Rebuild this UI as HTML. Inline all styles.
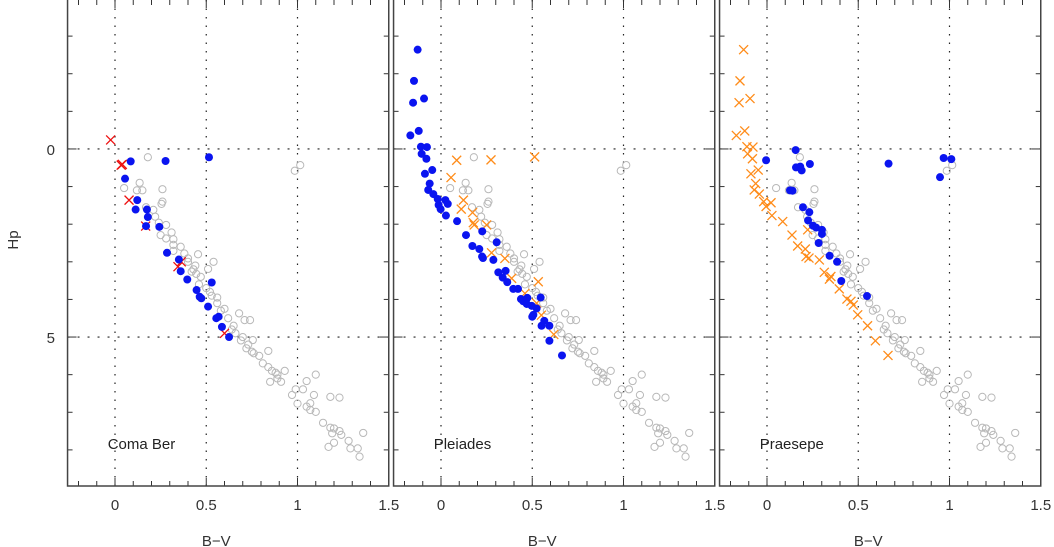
<!DOCTYPE html>
<html><head><meta charset="utf-8"><style>
html,body{margin:0;padding:0;background:#fff;}
svg{display:block;font-family:"Liberation Sans",sans-serif;}
</style></head><body>
<svg id="chart" width="1054" height="547" viewBox="0 0 1054 547" xmlns="http://www.w3.org/2000/svg"></svg>
<script>
// ---- data ----
const panelNames = ["Coma Ber", "Pleiades", "Praesepe"];
const xTicks = [0, 0.5, 1, 1.5];
const xTickLabels = ["0", "0.5", "1", "1.5"];
const yTicks = [0, 5];
const yTickLabels = ["0", "5"];
// field stars (grey open circles): [B-V, Hp]
const fieldStars = [[.18,.22],[1.015,.43],[.985,.58],[.135,.9],[.05,1.04],[.12,1.1],[.15,1.1],[.26,1.07],[.26,1.4],[.255,1.46],
[.17,1.55],[.21,1.62],[.22,1.8],[.24,1.96],[.28,2.02],[.25,2.29],[.28,2.38],[.32,2.4],[.31,2.22],[.32,2.55],[.32,2.71],[.38,2.78],
[.455,2.8],[.4,2.91],[.44,3.1],[.42,3.26],[.445,3.32],[.51,3.19],[.54,3.0],[.46,3.6],[.52,3.8],[.56,3.95],[.56,4.1],[.6,4.25],
[.68,4.37],[.71,4.55],[.74,4.55],[.65,4.7],[.66,4.9],[.755,5.08],[.69,5.09],[.72,5.3],[.75,5.39],[.76,5.43],[.84,5.37],
[.81,5.7],[.84,5.8],[.86,5.9],[.93,5.9],[.85,6.19],[.89,6.1],[.91,6.19],[.89,6.0],[.99,6.39],[.97,6.54],[1.03,6.39],[1.1,6.0],
[1.05,6.17],[1.0,6.77],[1.09,6.54],[1.05,6.85],[1.07,6.76],[1.07,6.94],[1.1,6.99],[1.18,6.59],[1.23,6.61],[1.14,7.28],[1.18,7.41],
[1.2,7.43],[1.19,7.56],[1.23,7.5],[1.24,7.6],[1.36,7.55],[1.28,7.76],[1.17,7.92],[1.2,7.81],[1.29,7.96],[1.33,7.96],[1.34,8.18],
[.36,2.6],[.4,3.0],[.43,3.2],[.47,3.4],[.5,3.7],[.53,3.9],[.58,4.3],[.62,4.5],[.64,4.8],[.7,5.0],[.73,5.2],[.79,5.5],[.88,5.95]];
// Coma Ber
const comaDots = [[.086,.33],[.277,.32],[.515,.22],[.055,.79],[.122,1.36],[.113,1.61],[.175,1.61],[.18,1.81],[.17,2.05],[.243,2.07],
[.285,2.76],[.35,2.94],[.36,3.25],[.396,3.47],[.53,3.55],[.447,3.75],[.464,3.93],[.473,3.97],[.51,4.19],[.555,4.5],[.568,4.46],[.586,4.73],[.625,5.0]];
const comaCrosses = [[-.024,-.24],[.034,.43],[.04,.41],[.077,1.36],[.168,2.05],[.363,3.0],[.345,3.13],[.6,4.9]];
// Pleiades
const pleiadesDots = [[-.128,-2.64],[-.148,-1.81],[-.153,-1.23],[-.093,-1.34],[-.168,-.36],[-.122,-.48],[-.11,-.06],[-.077,-.05],
[-.106,.13],[-.08,.26],[-.088,.66],[-.048,.56],[-.062,.92],[-.07,1.09],[-.042,1.2],[-.018,1.33],[-.013,1.49],[-.002,1.6],[.024,1.36],
[.037,1.46],[.027,1.77],[.088,1.92],[.226,2.19],[.137,2.29],[.305,2.48],[.172,2.58],[.21,2.66],[.225,2.86],[.23,2.9],[.287,2.95],
[.314,3.28],[.354,3.24],[.338,3.42],[.363,3.54],[.396,3.72],[.422,3.72],[.438,3.99],[.451,4.05],[.473,3.96],[.497,4.17],[.47,4.12],
[.546,3.95],[.524,4.24],[.506,4.41],[.5,4.46],[.566,4.57],[.551,4.7],[.594,4.7],[.594,5.1],[.663,5.49]];
const pleiadesCrosses = [[.086,.3],[.274,.29],[.513,.21],[.055,.76],[.123,1.36],[.111,1.6],[.177,1.96],[.182,2.02],[.173,1.69],[.25,2.02],
[.277,2.76],[.35,2.91],[.387,3.44],[.533,3.53],[.46,3.84],[.524,4.1],[.55,4.42],[.618,4.93]];
// Praesepe
const praesepeDots = [[.157,.03],[-.005,.3],[.159,.49],[.182,.47],[.19,.57],[.235,.4],[.666,.39],[.968,.24],[1.01,.27],[.948,.75],
[.126,1.1],[.14,1.11],[.197,1.55],[.232,1.68],[.225,1.9],[.252,2.04],[.269,2.09],[.301,2.15],[.301,2.26],[.283,2.5],[.343,2.84],
[.384,3.0],[.407,3.51],[.548,3.91]];
const praesepeCrosses = [[-.128,-2.64],[-.148,-1.81],[-.153,-1.23],[-.093,-1.34],[-.168,-.36],[-.122,-.48],[-.11,-.06],[-.077,-.05],
[-.106,.13],[-.08,.26],[-.088,.66],[-.048,.56],[-.062,.92],[-.07,1.09],[-.042,1.2],[-.018,1.4],[-.005,1.53],[.022,1.43],[.027,1.77],
[.086,1.93],[.137,2.29],[.168,2.58],[.21,2.66],[.214,2.86],[.23,2.9],[.287,2.95],[.314,3.28],[.35,3.39],[.342,3.46],[.396,3.72],
[.438,3.99],[.46,4.05],[.473,4.15],[.497,4.41],[.551,4.7],[.594,5.1],[.663,5.49],[.223,2.15]];

// ---- layout ----
const NS = "http://www.w3.org/2000/svg";
const svg = document.getElementById("chart");
const panelZero = [115, 441, 767];
const XS = 182.5, XMIN = -0.26, XMAX = 1.5;
const YTOP = 0, YBOT = 486, HPMIN = -3.96, HPMAX = 8.96;
function yScale(v){ return YTOP + (v - HPMIN) / (HPMAX - HPMIN) * (YBOT - YTOP); }
function mk(tag, attrs, parent){ const e = document.createElementNS(NS, tag); for (const k in attrs) e.setAttribute(k, attrs[k]); (parent||svg).appendChild(e); return e; }

const panelDots = [comaDots, pleiadesDots, praesepeDots];
const panelCrosses = [comaCrosses, pleiadesCrosses, praesepeCrosses];
const crossColors = ["#ee1111", "#ff8c1a", "#ff8c1a"];

panelNames.forEach((name, p) => {
  const z = panelZero[p];
  const xScale = v => z + v * XS;
  const L = xScale(XMIN), R = xScale(XMAX);
  const g = mk("g", {});
  
  
  // grid
  [0, 0.5, 1].forEach(v => {
    const l = mk("line", {x1: xScale(v), x2: xScale(v), y1: YTOP, y2: YBOT, stroke: "#222", "stroke-width": 1.2, "stroke-dasharray": "1.5,7"}, g);
    
    
  });
  yTicks.forEach(v => {
    const l = mk("line", {x1: L, x2: R, y1: yScale(v), y2: yScale(v), stroke: "#222", "stroke-width": 1.2, "stroke-dasharray": "2,8"}, g);
    
    
  });
  // ticks
  for (let i = -2; i <= 15; i++) {
    const v = i / 10; if (v < XMIN || v > XMAX) continue;
    const major = (i % 5 === 0);
    const len = major ? 8 : 5;
    mk("line", {x1: xScale(v), x2: xScale(v), y1: YBOT, y2: YBOT - len, stroke: "#333", "stroke-width": 1}, g);
    mk("line", {x1: xScale(v), x2: xScale(v), y1: YTOP, y2: YTOP + len, stroke: "#333", "stroke-width": 1}, g);
  }
  for (let v = -3; v <= 8; v++) {
    const len = (v % 5 === 0) ? 9 : 5;
    mk("line", {x1: L, x2: L + len, y1: yScale(v), y2: yScale(v), stroke: "#333", "stroke-width": 1}, g);
    mk("line", {x1: R, x2: R - len, y1: yScale(v), y2: yScale(v), stroke: "#333", "stroke-width": 1}, g);
  }
  // field stars
  fieldStars.forEach(d => {
    const c = mk("circle", {cx: xScale(d[0]), cy: yScale(d[1]), r: 3.6, fill: "none", stroke: "#b8b8b8", "stroke-width": 1}, g);
    
    
  });
  // crosses
  panelCrosses[p].forEach(d => {
    const x = xScale(d[0]), y = yScale(d[1]), s = 4.5;
    const c = mk("path", {d: `M${x-s},${y-s}L${x+s},${y+s}M${x-s},${y+s}L${x+s},${y-s}`, stroke: crossColors[p], "stroke-width": 1.3, fill: "none"}, g);
    
    
  });
  // dots
  panelDots[p].forEach(d => {
    const c = mk("circle", {cx: xScale(d[0]), cy: yScale(d[1]), r: 4, fill: "#0a14f0"}, g);
    
    
  });
  // frame
  const f = mk("rect", {x: L, y: -2, width: R - L, height: YBOT + 2, fill: "none", stroke: "#444", "stroke-width": 1.5}, g);
  
  
  // x tick labels
  xTicks.forEach((v, i) => {
    const t = mk("text", {x: xScale(v), y: 510, "font-size": 15, fill: "#333", "text-anchor": "middle"}, g);
    t.textContent = xTickLabels[i];
    
    
  });
  const xt = mk("text", {x: xScale(0.555), y: 546, "font-size": 15, fill: "#333", "text-anchor": "middle"}, g);
  xt.textContent = "B\u2212V";
  
  
  const nt = mk("text", {x: xScale(-0.04), y: 449, "font-size": 15, fill: "#222"}, g);
  nt.textContent = name;
  
  
});
// y tick labels (first panel only)
yTicks.forEach((v, i) => {
  const t = mk("text", {x: 55, y: yScale(v) + 6, "font-size": 15, fill: "#333", "text-anchor": "end"});
  t.textContent = yTickLabels[i];
  
  
});
const yt = mk("text", {x: 0, y: 0, "font-size": 15, fill: "#333", "text-anchor": "middle", transform: "translate(18,240) rotate(-90)"});
yt.textContent = "Hp";


</script>
</body></html>
